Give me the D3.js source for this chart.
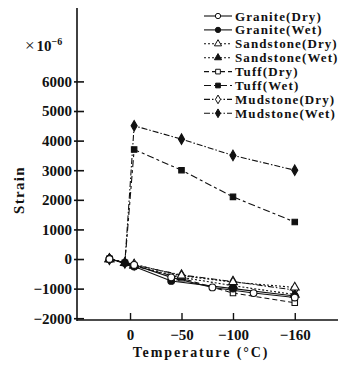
<!DOCTYPE html>
<html>
<head>
<meta charset="utf-8">
<script src="https://cdn.jsdelivr.net/npm/d3@7"></script>
<style>
  html, body { margin: 0; padding: 0; background: #fff; }
  svg { display: block; }
  text { font-family: "Liberation Serif", "DejaVu Serif", serif; font-weight: bold; fill: #111; }
</style>
</head>
<body>
<svg id="chart" width="350" height="365"></svg>
<script>
// Temperatures (°C) at which strain was recorded
const tempDry = [20, -4, -50, -100, -160];
const tempWet = [20, 5, -4, -50, -100, -160];
const tempGraniteDry = [20, -4, -40, -80, -120, -160];
const tempGraniteWet = [20, 5, -4, -40, -100, -160];

// Strain values (×10^-6)
const graniteDry   = [0, -200, -620, -960, -1150, -1300];
const graniteWet   = [0, -130, -250, -740, -1000, -1250];
const sandstoneDry = [0, -180, -560, -780, -960];
const sandstoneWet = [0, -130, -220, -620, -900, -1200];
const tuffDry      = [0, -230, -650, -1150, -1480];
const tuffWet      = [0, -130, 3700, 3000, 2100, 1250];
const mudstoneDry  = [0, -200, -540, -760, -1050];
const mudstoneWet  = [0, -130, 4500, 4050, 3500, 3000];

const seriesNames = ["Granite(Dry)", "Granite(Wet)", "Sandstone(Dry)", "Sandstone(Wet)",
                     "Tuff(Dry)", "Tuff(Wet)", "Mudstone(Dry)", "Mudstone(Wet)"];
const xTicks = [0, -50, -100, -160];
const yTicks = [-2000, -1000, 0, 1000, 2000, 3000, 4000, 5000, 6000];

const series = [
  { name: seriesNames[0], t: tempGraniteDry, v: graniteDry,   sym: "circle",   fill: false, dash: null },
  { name: seriesNames[1], t: tempGraniteWet, v: graniteWet,   sym: "circle",   fill: true,  dash: null },
  { name: seriesNames[2], t: tempDry,        v: sandstoneDry, sym: "triangle", fill: false, dash: "2,2" },
  { name: seriesNames[3], t: tempWet,        v: sandstoneWet, sym: "triangle", fill: true,  dash: "2,2" },
  { name: seriesNames[4], t: tempDry,        v: tuffDry,      sym: "square",   fill: false, dash: "5,3" },
  { name: seriesNames[5], t: tempWet,        v: tuffWet,      sym: "square",   fill: true,  dash: "7,3,3,3" },
  { name: seriesNames[6], t: tempDry,        v: mudstoneDry,  sym: "diamond",  fill: false, dash: "6,2,1.5,2" },
  { name: seriesNames[7], t: tempWet,        v: mudstoneWet,  sym: "diamond",  fill: true,  dash: "6,2,1.5,2" }
];

const svg = d3.select("#chart");
const plotLeft = 77, plotRight = 338, plotTop = 8, plotBottom = 320;

const x = d3.scaleLinear().domain([51.5, -202]).range([plotLeft, plotRight]);
const y = d3.scaleLinear().domain([-2060, 8480]).range([plotBottom, plotTop]);

const symType = {
  circle: d3.symbolCircle, triangle: d3.symbolTriangle,
  square: d3.symbolSquare, diamond: d3.symbolDiamond
};
const symSize = { circle: 36, triangle: 34, square: 30, diamond: 32 };
const fmt = d => d < 0 ? "\u2212" + Math.abs(d) : String(d);

// Axes
const yAxis = d3.axisLeft(y).tickValues(yTicks).tickSize(-7).tickPadding(4).tickFormat(fmt);
const gy = svg.append("g").attr("transform", `translate(${plotLeft},0)`).call(yAxis);
gy.select(".domain").remove();
gy.selectAll(".tick line").attr("x1", -3).attr("stroke", "#111").attr("stroke-width", 1.6);
gy.selectAll(".tick text").attr("x", -5).style("font-size", "15px").attr("fill", "#111");

const xAxis = d3.axisBottom(x).tickValues(xTicks).tickSize(-7).tickPadding(10).tickFormat(fmt);
const gx = svg.append("g").attr("transform", `translate(0,${plotBottom})`).call(xAxis);
gx.select(".domain").remove();
gx.selectAll(".tick line").attr("stroke", "#111").attr("stroke-width", 1.4);
gx.selectAll(".tick text").attr("y", 9).style("font-size", "15px").attr("fill", "#111");

svg.append("line").attr("x1", plotLeft).attr("x2", plotLeft).attr("y1", plotTop).attr("y2", plotBottom + 1)
  .attr("stroke", "#111").attr("stroke-width", 1.6);
svg.append("line").attr("x1", plotLeft).attr("x2", plotRight).attr("y1", plotBottom).attr("y2", plotBottom)
  .attr("stroke", "#111").attr("stroke-width", 1.6);

// Axis titles and unit
svg.append("text").attr("x", 201).attr("y", 357).attr("text-anchor", "middle")
  .style("font-size", "14px").style("letter-spacing", "1.9px").text("Temperature (°C)");
svg.append("text").attr("transform", "translate(24,190) rotate(-90)").attr("text-anchor", "middle")
  .style("font-size", "15px").style("letter-spacing", "1.3px").text("Strain");
const unit = svg.append("text").attr("x", 25).attr("y", 51).style("font-size", "15px");
unit.append("tspan").style("font-weight", "normal").style("font-size", "17px").text("\u00d7");
unit.append("tspan").attr("dx", 2).text("10");
unit.append("tspan").attr("dy", -6).style("font-size", "10px").text("\u22126");

// Series lines
const line = d3.line().x(d => x(d[0])).y(d => y(d[1]));
series.forEach(s => {
  const pts = s.t.map((t, i) => [t, s.v[i]]);
  svg.append("path").datum(pts).attr("d", line).attr("fill", "none")
    .attr("stroke", "#111").attr("stroke-width", 1.1)
    .attr("stroke-dasharray", s.dash);
});

// Markers, drawn last-series-first so the granite markers sit on top where points coincide
series.slice().reverse().forEach(s => {
  const pts = s.t.map((t, i) => [t, s.v[i]]);
  svg.selectAll(null).data(pts).enter().append("path")
    .attr("transform", d => `translate(${x(d[0])},${y(d[1])})`)
    .attr("d", d3.symbol().type(symType[s.sym]).size(symSize[s.sym]))
    .attr("fill", s.fill ? "#111" : "#fff").attr("stroke", "#111").attr("stroke-width", 1.1);
});

// Legend
const lg = svg.append("g");
series.forEach((s, i) => {
  const ly = 16 + i * 13.9;
  lg.append("line").attr("x1", 204).attr("x2", 232).attr("y1", ly).attr("y2", ly)
    .attr("stroke", "#111").attr("stroke-width", 1.1).attr("stroke-dasharray", s.dash);
  lg.append("path").attr("transform", `translate(218,${ly})`)
    .attr("d", d3.symbol().type(symType[s.sym]).size(22))
    .attr("fill", s.fill ? "#111" : "#fff").attr("stroke", "#111").attr("stroke-width", 1);
  lg.append("text").attr("x", 235).attr("y", ly + 4.5)
    .style("font-size", "13px").style("letter-spacing", "1.1px").text(s.name);
});
</script>
</body>
</html>
